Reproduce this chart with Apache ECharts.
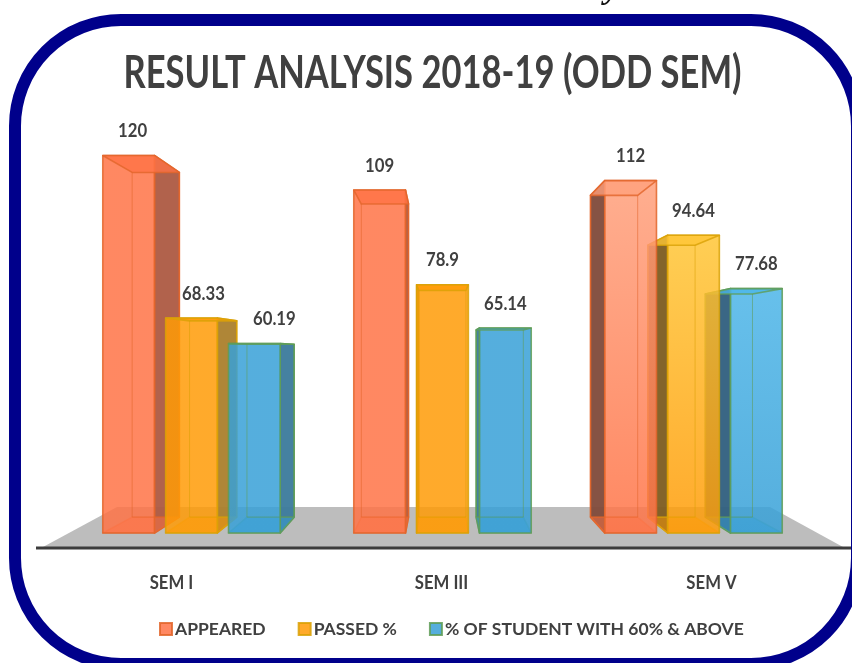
<!DOCTYPE html>
<html>
<head>
<meta charset="utf-8">
<title>Result analysis</title>
<style>
  html, body { margin: 0; padding: 0; background: #fff; }
  #chart { width: 852px; height: 663px; }
</style>
</head>
<body>
<div id="chart"></div>
<script src="https://cdn.jsdelivr.net/npm/echarts@6/dist/echarts.min.js"></script>
<script>
  const categories = ["SEM I", "SEM III", "SEM V"];
  const appeared = [120, 109, 112];
  const passed = [68.33, 78.9, 94.64];
  const above60 = [60.19, 65.14, 77.68];
  const seriesNames = ["APPEARED", "PASSED %", "% OF STUDENT WITH 60% & ABOVE"];
  const chartTitle = "RESULT ANALYSIS 2018-19 (ODD SEM)";

  // face colours per series
  const palette = [
    { front: "#ff7346", light: "#ffa07c", border: "#e2652a", side: "#ad5a42", sideDark: "#7f4a3a" },
    { front: "#ff9b06", light: "#ffc636", border: "#d9a106", side: "#ab7f2c", sideDark: "#7d5c20" },
    { front: "#37a0d7", light: "#4cb5e8", border: "#5f9c55", side: "#3b7a9c", sideDark: "#2f5f7e" }
  ];
  // the picture's label positions do not sit on the bars in the first group
  const labelShift = [[4, 12, 20], [0, 0, 0], [0, 0, 0]];
  const categoryShift = [-20, -1, 18];

  const font = "Lato, sans-serif";
  const depth = 0.913; // back face scale, perspective of the 3D bars
  const vanishValue = 58; // value level of the vanishing point

  // Lato squeezed sideways, closer to the narrower face of the picture
  function narrowText(x, y, text, size, squeeze, z2) {
    return {
      type: "text",
      x: x,
      y: y,
      scaleX: squeeze,
      z2: z2,
      style: {
        x: 0,
        y: 0,
        text: text,
        fill: "#404040",
        font: "bold " + size + "px " + font,
        align: "center",
        verticalAlign: "middle"
      }
    };
  }

  function renderBar(params, api) {
    const si = params.seriesIndex;
    const cat = api.value(0);
    const val = api.value(1);
    const band = api.size([1, 0])[0];
    const col = palette[si];
    const centre = api.coord([cat, 0])[0] + (si - 1) * band * 0.2505;
    const half = band * 0.103;
    const yTop = api.coord([cat, val])[1];
    const yBase = api.coord([cat, 0])[1];
    const vx = api.coord([1, 0])[0] - 2;
    const vy = api.coord([1, vanishValue])[1];
    const back = (p) => [vx + (p[0] - vx) * depth, vy + (p[1] - vy) * depth];

    const a = [centre - half, yTop];
    const b = [centre + half, yTop];
    const c = [centre + half, yBase];
    const d = [centre - half, yBase];
    const a2 = back(a), b2 = back(b), c2 = back(c), d2 = back(d);

    // left of the centre the bars stack rising to the right, right of it the other way
    const layer = cat === 2 ? (2 - si) * 10 : si * 10;

    // group 3 is lit from above, others are nearly flat
    const topColor = cat === 2 ? col.light : col.front;
    const frontFill = new echarts.graphic.LinearGradient(0, 0, 0, 1, [
      { offset: 0, color: topColor },
      { offset: 1, color: col.front }
    ]);
    const sideOn = centre < vx ? [b, b2, c2, c] : [a, a2, d2, d];
    const edge = (pts, fill, op, z2) => ({
      type: "polygon",
      z2: layer + z2,
      shape: { points: pts },
      style: { fill: fill, opacity: op, stroke: col.border, lineWidth: 1.6, lineJoin: "round" }
    });
    const thin = (p, q) => ({
      type: "line",
      z2: layer + 6,
      shape: { x1: p[0], y1: p[1], x2: q[0], y2: q[1] },
      style: { stroke: col.border, lineWidth: 1, opacity: 0.55 }
    });

    return {
      type: "group",
      children: [
        edge(sideOn, cat === 2 ? col.sideDark : col.side, 0.95, 2),
        edge([d, c, c2, d2], col.front, 0.5, 3),
        edge([a, b, c, d], frontFill, 0.85, 4),
        edge([a, b, b2, a2], topColor, 0.8, 5),
        thin(a2, d2),
        thin(b2, c2),
        thin(d2, c2),
        narrowText(centre + labelShift[cat][si], yTop - 24.5, String(val), 19, 0.88, 100)
      ]
    };
  }

  // category names sit under the floor, off the bar centres
  function renderCategory(params, api) {
    const cat = api.value(0);
    const p = api.coord([cat, 0]);
    return narrowText(p[0] + categoryShift[cat], p[1] + 50, categories[cat], 19, 0.88, 100);
  }

  const barSeries = [appeared, passed, above60].map((values, i) => ({
    name: seriesNames[i],
    type: "custom",
    renderItem: renderBar,
    clip: false,
    z: 3,
    encode: { x: 0, y: 1 },
    data: values.map((v, k) => [k, v]),
    itemStyle: { color: palette[i].front, opacity: 0.85, borderColor: palette[i].border, borderWidth: 1 }
  }));

  const myChart = echarts.init(document.getElementById("chart"));
  const option = {
    animation: false,
    backgroundColor: "#ffffff",
    legend: {
      data: seriesNames,
      left: 154,
      top: 615,
      icon: "rect",
      itemWidth: 12,
      itemHeight: 12,
      itemGap: 32,
      textStyle: { fontFamily: font, fontWeight: "bold", fontSize: 17.5, color: "#404040", padding: [0, 0, 0, -2] }
    },
    grid: { left: 66, right: 33, top: 124, bottom: 130 },
    xAxis: {
      type: "category",
      data: categories,
      axisLine: { show: false },
      axisTick: { show: false },
      axisLabel: { show: false }
    },
    yAxis: {
      type: "value",
      min: 0,
      max: 130,
      show: false
    },
    graphic: [
      { // floor
        type: "polygon",
        z: 0,
        shape: { points: [[43, 547], [117, 507], [770, 507], [843, 547]] },
        style: { fill: "#bdbdbd" }
      },
      {
        type: "line",
        z: 1,
        shape: { x1: 36, y1: 548, x2: 851, y2: 548 },
        style: { stroke: "#3c3c3c", lineWidth: 3 }
      },
      { // frame
        type: "rect",
        z: 5,
        shape: { x: 15, y: 20, width: 842, height: 644, r: 106 },
        style: { fill: "none", stroke: "#00008b", lineWidth: 12 }
      },
      { // title, squeezed to the width of the original
        type: "text",
        z: 6,
        x: 432.5,
        y: 73,
        scaleX: 0.751,
        style: {
          x: 0,
          y: 0,
          text: chartTitle,
          fill: "#404040",
          font: "bold 46px " + font,
          align: "center",
          verticalAlign: "middle"
        }
      },
      { // tail of a letter cut off by the top of the picture
        type: "text",
        z: 6,
        x: 612,
        y: -11,
        style: {
          x: 0,
          y: 0,
          text: "y",
          fill: "#111111",
          font: "italic bold 34px 'Liberation Serif', serif",
          align: "center",
          verticalAlign: "middle"
        }
      }
    ],
    series: barSeries.concat([
      {
        type: "custom",
        renderItem: renderCategory,
        silent: true,
        clip: false,
        data: categories.map((c, k) => [k, 0])
      }
    ])
  };
  myChart.setOption(option);
</script>
</body>
</html>
